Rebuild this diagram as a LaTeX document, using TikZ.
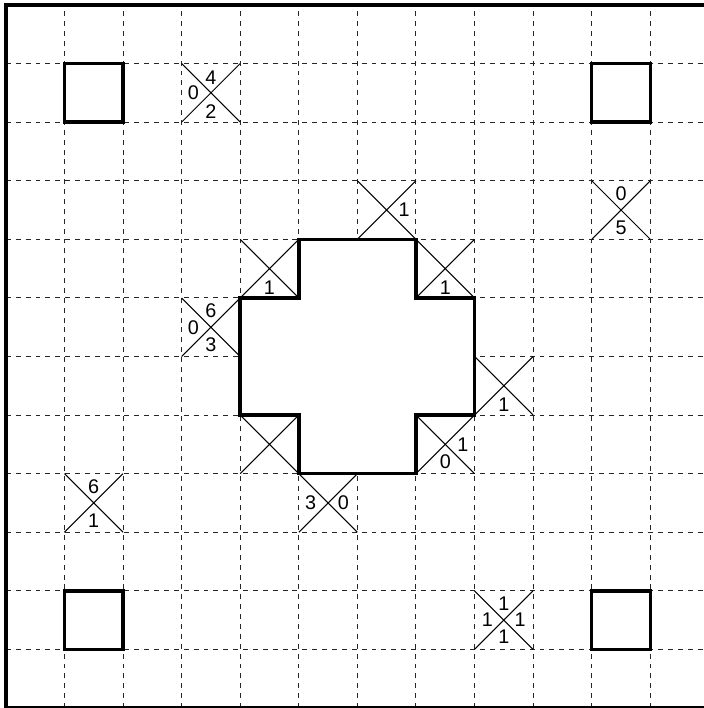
\documentclass[tikz,border=0pt]{standalone}
\usepackage{fontspec}
\setmainfont{Liberation Sans}
\usetikzlibrary{positioning}

\begin{document}
\begin{tikzpicture}[
  gridline/.style={dash pattern=on 2.4pt off 2.4pt, line width=0.5pt, black!85},
  wall/.style={line width=1.7pt, fill=white, line join=miter},
  post/.style={rectangle, draw, line width=1.7pt, fill=white, minimum size=1cm, inner sep=0pt},
  cell/.style={rectangle, minimum size=1cm, inner sep=0pt, outer sep=0pt},
  diag/.style={line width=0.5pt},
  num/.style={font=\fontsize{9.6}{11}\selectfont, inner sep=0pt}
]
\useasboundingbox (-0.1,0) rectangle (11.914,12.085);

% grid and frame
\draw[gridline] (0,0) grid (12,12);

% corner posts
\node[post] (p1) at (1.5,10.5) {};
\node[post] (p2) at (10.5,10.5) {};
\node[post] (p3) at (1.5,1.5) {};
\node[post] (p4) at (10.5,1.5) {};

% the block in the middle
\draw[wall] (5,8) -- (7,8) -- (7,7) -- (8,7) -- (8,5) -- (7,5) -- (7,4)
  -- (5,4) -- (5,5) -- (4,5) -- (4,7) -- (5,7) -- cycle;

% crossed cells
\node[cell] (c1) at (3.5,10.5) {};
\node[cell] (c2) at (10.5,8.5) {};
\node[cell] (c3) at (6.5,8.5) {};
\node[cell] (c4) at (4.5,7.5) {};
\node[cell] (c5) at (7.5,7.5) {};
\node[cell] (c6) at (3.5,6.5) {};
\node[cell] (c7) at (8.5,5.5) {};
\node[cell] (c8) at (4.5,4.5) {};
\node[cell] (c9) at (7.5,4.5) {};
\node[cell] (c10) at (5.5,3.5) {};
\node[cell] (c11) at (1.5,3.5) {};
\node[cell] (c12) at (8.5,1.5) {};

\foreach \c in {c1,c2,c3,c4,c5,c6,c7,c8,c9,c10,c11,c12}
  \draw[diag] (\c.north west) -- (\c.south east) (\c.north east) -- (\c.south west);

% counts
\node[num] (c1t) at ([yshift=2.6mm]c1.center) {4};
\node[num] (c1l) at ([xshift=-3.0mm]c1.center) {0};
\node[num] (c1b) at ([yshift=-3.2mm]c1.center) {2};
\node[num] (c2t) at ([yshift=2.8mm]c2.center) {0};
\node[num] (c2b) at ([yshift=-3.0mm]c2.center) {5};
\node[num] (c3r) at ([xshift=3.0mm]c3.center) {1};
\node[num] (c4b) at ([yshift=-3.2mm]c4.center) {1};
\node[num] (c5b) at ([yshift=-3.2mm]c5.center) {1};
\node[num] (c6t) at ([yshift=2.8mm]c6.center) {6};
\node[num] (c6l) at ([xshift=-3.0mm]c6.center) {0};
\node[num] (c6b) at ([yshift=-3.0mm]c6.center) {3};
\node[num] (c7b) at ([yshift=-3.2mm]c7.center) {1};
\node[num] (c9r) at ([xshift=3.0mm]c9.center) {1};
\node[num] (c9b) at ([yshift=-2.9mm]c9.center) {0};
\node[num] (c10l) at ([xshift=-3.0mm]c10.center) {3};
\node[num] (c10r) at ([xshift=2.6mm]c10.center) {0};
\node[num] (c11t) at ([yshift=2.8mm]c11.center) {6};
\node[num] (c11b) at ([yshift=-3.0mm]c11.center) {1};
\node[num] (c12t) at ([yshift=2.8mm]c12.center) {1};
\node[num] (c12l) at ([xshift=-2.8mm]c12.center) {1};
\node[num] (c12r) at ([xshift=2.8mm]c12.center) {1};
\node[num] (c12b) at ([yshift=-2.8mm]c12.center) {1};

\draw[line width=1.7pt] (0,0) rectangle (12,12);
\end{tikzpicture}
\end{document}
